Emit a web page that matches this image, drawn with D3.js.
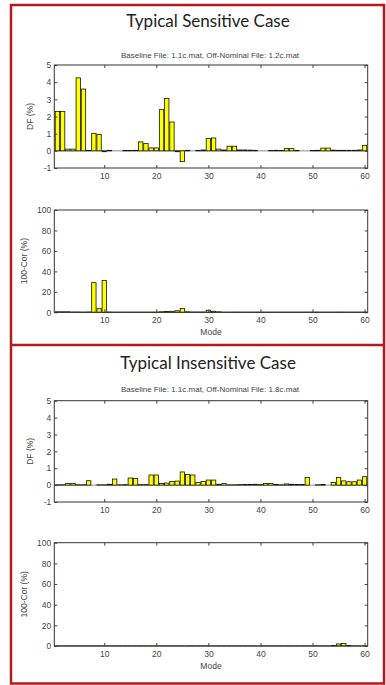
<!DOCTYPE html>
<html>
<head>
<meta charset="utf-8">
<script src="https://cdn.jsdelivr.net/npm/d3@7"></script>
<style>
body { margin: 0; background: #fff; }
svg { display: block; }
</style>
</head>
<body>
<svg id="drawing_region"></svg>
<script>
// mode numbers 1..60
const modes = d3.range(1, 61);

// DF (%) and 100-Cor (%), one value per mode
const sensitiveDF = [
    2.3, 2.3, 0.1, 0.1, 4.25, 3.6, 0.02, 1.02, 0.95, -0.05,
    0.03, 0.0, 0.0, 0.02, 0.02, 0.03, 0.52, 0.43, 0.17, 0.17,
    2.4, 3.05, 1.68, -0.05, -0.63, 0.03, 0.0, 0.02, 0.05, 0.72,
    0.75, 0.1, 0.05, 0.27, 0.27, 0.05, 0.05, 0.04, 0.03, 0.0,
    0.0, 0.02, 0.03, 0.02, 0.13, 0.13, 0.02, 0.0, 0.0, 0.02,
    0.03, 0.16, 0.16, 0.04, 0.03, 0.03, 0.03, 0.03, 0.05, 0.32
];
const sensitiveCor = [
    0.5, 0.5, 0.5, 0.3, 0.3, 0.2, 0.3, 29, 3.5, 31,
    0.3, 0.2, 0.2, 0.2, 0.2, 0.2, 0.2, 0.2, 0.2, 0.2,
    0.5, 0.8, 1.0, 1.5, 3.8, 0.5, 0.3, 0.3, 0.3, 2.0,
    1.0, 0.5, 0.2, 0.2, 0.2, 0.2, 0.2, 0.2, 0.2, 0.2,
    0.2, 0.2, 0.2, 0.2, 0.2, 0.2, 0.2, 0.2, 0.2, 0.2,
    0.2, 0.2, 0.2, 0.2, 0.2, 0.2, 0.2, 0.2, 0.2, 0.2
];
const insensitiveDF = [
    0.02, 0.02, 0.1, 0.1, 0.02, 0.02, 0.26, 0.0, 0.02, 0.02,
    0.05, 0.36, 0.02, 0.03, 0.42, 0.4, 0.03, 0.03, 0.6, 0.6,
    0.1, 0.12, 0.22, 0.24, 0.78, 0.63, 0.6, 0.16, 0.22, 0.3,
    0.3, 0.05, 0.1, 0.02, 0.02, 0.03, 0.04, 0.04, 0.05, 0.03,
    0.1, 0.1, 0.04, 0.02, 0.07, 0.05, 0.04, 0.04, 0.45, 0.0,
    0.02, 0.04, 0.0, 0.15, 0.45, 0.25, 0.2, 0.2, 0.3, 0.5
];
const insensitiveCor = [
    0.1, 0.1, 0.1, 0.1, 0.1, 0.1, 0.1, 0.1, 0.1, 0.1,
    0.1, 0.1, 0.1, 0.1, 0.1, 0.1, 0.1, 0.1, 0.1, 0.1,
    0.1, 0.1, 0.1, 0.1, 0.1, 0.1, 0.1, 0.1, 0.1, 0.1,
    0.1, 0.1, 0.1, 0.1, 0.1, 0.1, 0.1, 0.1, 0.1, 0.1,
    0.1, 0.1, 0.1, 0.1, 0.1, 0.1, 0.1, 0.1, 0.1, 0.1,
    0.1, 0.1, 0.1, 0.5, 2.0, 2.5, 0.5, 0.1, 0.1, 0.1
];

const xTicks = [10, 20, 30, 40, 50, 60];
const dfTicks = [-1, 0, 1, 2, 3, 4, 5];
const corTicks = [0, 20, 40, 60, 80, 100];

const titles = ["Typical Sensitive Case", "Typical Insensitive Case"];
const subtitles = [
    "Baseline File: 1.1c.mat, Off-Nominal File: 1.2c.mat",
    "Baseline File: 1.1c.mat, Off-Nominal File: 1.8c.mat"
];

const tickFont = '"Liberation Sans", Arial, sans-serif';

const svg = d3.select('#drawing_region')
    .attr('width', 386)
    .attr('height', 685);

class BarPanel {

    constructor( config, values ) {
        this.config = {
            parent: config.parent,
            left: config.left,
            right: config.right,
            top: config.top,
            bottom: config.bottom,
            ydomain: config.ydomain,
            yticks: config.yticks,
            ylabel: config.ylabel,
            xlabel: config.xlabel || null,
            baseline: config.baseline || false
        }
        this.data = modes.map( (m, i) => ({ mode: m, value: values[i] }) );
        this.init();
    }

    init() {
        let self = this;
        let c = self.config;

        self.chart = c.parent.append('g');

        self.xscale = d3.scaleLinear()
            .domain( [0.4, 60.6] )
            .range( [c.left, c.right] );

        self.yscale = d3.scaleLinear()
            .domain( c.ydomain )
            .range( [c.bottom, c.top] );

        self.xaxis = d3.axisBottom( self.xscale )
            .tickValues( xTicks )
            .tickFormat( d => String(d) )
            .tickSize( -3 )
            .tickSizeOuter( 0 )
            .tickPadding( 5 );

        self.xaxis_top = d3.axisTop( self.xscale )
            .tickValues( xTicks )
            .tickSize( -3 )
            .tickSizeOuter( 0 )
            .tickFormat( '' );

        // plain hyphen for negatives, as in the picture
        self.yaxis = d3.axisLeft( self.yscale )
            .tickValues( c.yticks )
            .tickFormat( d => String(d) )
            .tickSize( -3 )
            .tickSizeOuter( 0 )
            .tickPadding( 3 );

        self.yaxis_right = d3.axisRight( self.yscale )
            .tickValues( c.yticks )
            .tickSize( -3 )
            .tickSizeOuter( 0 )
            .tickFormat( '' );
    }

    render() {
        let self = this;
        let c = self.config;
        const bw = 0.84;

        if (c.baseline) {
            self.chart.append('line')
                .attr('x1', c.left).attr('x2', c.right)
                .attr('y1', self.yscale(0)).attr('y2', self.yscale(0))
                .attr('stroke', '#8a8a8a')
                .attr('stroke-width', 1);
        }

        self.chart.selectAll('rect.bar')
            .data( self.data )
            .join('rect')
            .attr('class', 'bar')
            .attr('x', d => self.xscale( d.mode - bw / 2 ) )
            .attr('width', d => self.xscale( d.mode + bw / 2 ) - self.xscale( d.mode - bw / 2 ) )
            .attr('y', d => self.yscale( Math.max(0, d.value) ) )
            .attr('height', d => Math.abs( self.yscale(0) - self.yscale(d.value) ) )
            .attr('fill', '#ffff00')
            .attr('stroke', '#111')
            .attr('stroke-width', 0.8);

        const groups = [
            [self.xaxis, `translate(0, ${c.bottom})`],
            [self.xaxis_top, `translate(0, ${c.top})`],
            [self.yaxis, `translate(${c.left}, 0)`],
            [self.yaxis_right, `translate(${c.right}, 0)`]
        ];
        groups.forEach( ([axis, tr]) => {
            const g = self.chart.append('g')
                .attr('transform', tr)
                .call( axis );
            g.select('.domain').remove();
            g.selectAll('line').attr('stroke', '#444');
            g.selectAll('text')
                .attr('fill', '#444')
                .attr('font-family', tickFont)
                .attr('font-size', '8.5px');
        });

        self.chart.append('rect')
            .attr('x', c.left)
            .attr('y', c.top)
            .attr('width', c.right - c.left)
            .attr('height', c.bottom - c.top)
            .attr('fill', 'none')
            .attr('stroke', '#333')
            .attr('stroke-width', 1);

        self.chart.append('text')
            .attr('transform', `translate(${c.left - (c.ylabel.length > 7 ? 27 : 21)}, ${(c.top + c.bottom) / 2}) rotate(-90)`)
            .attr('text-anchor', 'middle')
            .attr('font-family', tickFont)
            .attr('font-size', '8.5px')
            .attr('fill', '#444')
            .text( c.ylabel );

        if (c.xlabel) {
            self.chart.append('text')
                .attr('x', (c.left + c.right) / 2)
                .attr('y', c.bottom + 23)
                .attr('text-anchor', 'middle')
                .attr('font-family', tickFont)
                .attr('font-size', '8.5px')
                .attr('fill', '#444')
                .text( c.xlabel );
        }
    }
}

// red frames around the two cases
const frame = svg.append('g');
frame.append('rect')
    .attr('x', 11).attr('y', 5)
    .attr('width', 373).attr('height', 678.5)
    .attr('fill', 'none')
    .attr('stroke', '#b01a20')
    .attr('stroke-width', 2.5);
frame.append('line')
    .attr('x1', 11).attr('x2', 384)
    .attr('y1', 345).attr('y2', 345)
    .attr('stroke', '#b01a20')
    .attr('stroke-width', 2.5);

const titleY = [27, 369];
const subtitleY = [58, 392];

titles.forEach( (t, i) => {
    svg.append('text')
        .attr('x', 208)
        .attr('y', titleY[i])
        .attr('text-anchor', 'middle')
        .attr('font-family', 'Lato, "Open Sans", sans-serif')
        .attr('font-size', '17px')
        .attr('fill', '#222')
        .text( t );
    svg.append('text')
        .attr('x', 210)
        .attr('y', subtitleY[i])
        .attr('text-anchor', 'middle')
        .attr('font-family', tickFont)
        .attr('font-size', '8px')
        .attr('fill', '#444')
        .text( subtitles[i] );
});

const left = 54.3, right = 367.7;

const panels = [
    new BarPanel({ parent: svg, left, right, top: 65, bottom: 168, ydomain: [-1, 5], yticks: dfTicks, ylabel: 'DF (%)', baseline: true }, sensitiveDF),
    new BarPanel({ parent: svg, left, right, top: 210, bottom: 312.3, ydomain: [0, 100], yticks: corTicks, ylabel: '100-Cor (%)', xlabel: 'Mode' }, sensitiveCor),
    new BarPanel({ parent: svg, left, right, top: 400.7, bottom: 502, ydomain: [-1, 5], yticks: dfTicks, ylabel: 'DF (%)', baseline: true }, insensitiveDF),
    new BarPanel({ parent: svg, left, right, top: 542.7, bottom: 646, ydomain: [0, 100], yticks: corTicks, ylabel: '100-Cor (%)', xlabel: 'Mode' }, insensitiveCor)
];
panels.forEach( p => p.render() );
</script>
</body>
</html>
